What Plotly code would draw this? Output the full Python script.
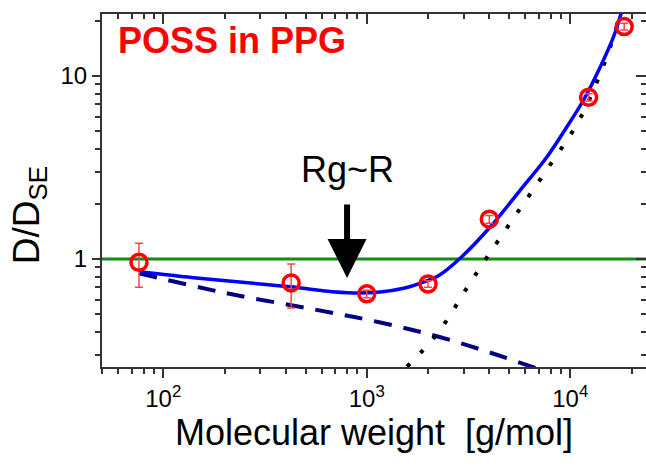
import math
import plotly.graph_objects as go

# ---- data ----
mw = [76, 425, 1000, 2000, 4000, 12300, 18400]
ratio = [0.96, 0.74, 0.645, 0.73, 1.65, 7.65, 18.6]
ratio_err = [0.26, 0.20, 0.03, 0.03, 0.08, 0.35, 0.8]

fit_mw = [76, 150, 300, 425, 600, 860, 1165, 1517, 2000, 2250, 2850, 4050,
          5680, 7690, 9630, 11620, 14030, 16320, 17740, 18400]
fit_val = [0.852, 0.785, 0.73, 0.705, 0.672, 0.652, 0.66, 0.692, 0.765, 0.81,
           1.0, 1.5, 2.38, 3.62, 5.28, 7.39, 11.2, 16.4, 21.8, 24.5]

low_mw = [76, 205, 548, 1165, 2570, 7000]
low_val = [0.835, 0.65, 0.531, 0.45, 0.361, 0.25]

high_mw = [1576, 2228, 3289, 4920, 7395, 11070, 14480, 16640, 18000]
high_val = [0.258, 0.393, 0.768, 1.50, 2.90, 5.75, 11.24, 17.46, 23.5]

x_lim = [50, 23550]
y_lim = [0.257, 21.8]
ref_val = [1, 1]

x_major = [100, 1000, 10000]
x_major_text = ["10<sup>2</sup>", "10<sup>3</sup>", "10<sup>4</sup>"]
x_minor = [m * 10 ** e for e in range(1, 5) for m in range(2, 10)]
y_major = [1, 10]
y_major_text = ["1", "10"]
y_minor = [m * 10 ** e for e in range(-1, 2) for m in range(2, 10)]

arrow_mw = 800
arrow_tip = 0.787

FONT = "Arial, Liberation Sans, sans-serif"
AX = "#333333"

fig = go.Figure()

fig.add_trace(go.Scatter(x=x_lim, y=ref_val, mode="lines",
                         line=dict(color="#138a13", width=3), hoverinfo="skip"))
fig.add_trace(go.Scatter(x=low_mw, y=low_val, mode="lines",
                         line=dict(color="#000080", width=4, dash="18px,12px", shape="spline"),
                         hoverinfo="skip"))
fig.add_trace(go.Scatter(x=high_mw, y=high_val, mode="lines",
                         line=dict(color="black", width=4, dash="4px,15px", shape="spline"),
                         hoverinfo="skip"))
fig.add_trace(go.Scatter(x=fit_mw, y=fit_val, mode="lines",
                         line=dict(color="#0000ff", width=3.5, shape="spline", smoothing=1.0),
                         hoverinfo="skip"))
fig.add_trace(go.Scatter(x=mw, y=ratio, mode="markers",
                         marker=dict(symbol="circle-open", size=16, color="#ff0000",
                                     line=dict(width=3.5, color="#ff0000")),
                         error_y=dict(type="data", array=ratio_err, visible=True,
                                      color="#ff4444", thickness=1.5, width=4)))
# helper traces so the mirrored (top / right) axes get drawn
fig.add_trace(go.Scatter(x=[], y=[], xaxis="x2", yaxis="y", showlegend=False))
fig.add_trace(go.Scatter(x=[], y=[], xaxis="x", yaxis="y2", showlegend=False))

xr = [math.log10(x_lim[0]), math.log10(x_lim[1])]
yr = [math.log10(y_lim[0]), math.log10(y_lim[1])]

fig.update_layout(
    width=646, height=466,
    margin=dict(l=102, r=0, t=14, b=99),
    paper_bgcolor="white", plot_bgcolor="white",
    showlegend=False,
    font=dict(family=FONT, color="black"),
    xaxis=dict(type="log", range=xr, showgrid=False, zeroline=False,
               showline=True, linecolor=AX, linewidth=2,
               tickmode="array", tickvals=x_major, ticktext=x_major_text,
               ticks="outside", ticklen=9, tickwidth=1.5, tickcolor=AX,
               tickfont=dict(size=24, family=FONT),
               minor=dict(tickmode="array", tickvals=x_minor, ticks="outside",
                          ticklen=5, tickwidth=1.5, tickcolor=AX),
               title=dict(text="Molecular weight&nbsp; [g/mol]",
                          font=dict(size=36, family=FONT), standoff=8)),
    yaxis=dict(type="log", range=yr, showgrid=False, zeroline=False,
               showline=True, linecolor=AX, linewidth=2,
               tickmode="array", tickvals=y_major, ticktext=y_major_text,
               ticks="outside", ticklen=8, tickwidth=1.5, tickcolor=AX,
               tickfont=dict(size=24, family=FONT),
               minor=dict(tickmode="array", tickvals=y_minor, ticks="outside",
                          ticklen=5, tickwidth=1.5, tickcolor=AX)),
    xaxis2=dict(type="log", range=xr, overlaying="x", side="top", anchor="y",
                showgrid=False, zeroline=False, showline=True, linecolor=AX, linewidth=2,
                tickmode="array", tickvals=x_major, showticklabels=False,
                ticks="inside", ticklen=10, tickwidth=1.5, tickcolor=AX,
                minor=dict(tickmode="array", tickvals=x_minor, ticks="inside",
                           ticklen=5, tickwidth=1.5, tickcolor=AX)),
    yaxis2=dict(type="log", range=yr, overlaying="y", side="right", anchor="x",
                showgrid=False, zeroline=False, showline=False,
                tickmode="array", tickvals=y_major, showticklabels=False,
                ticks="inside", ticklen=10, tickwidth=1.5, tickcolor=AX,
                minor=dict(tickmode="array", tickvals=y_minor, ticks="inside",
                           ticklen=5, tickwidth=1.5, tickcolor=AX)),
)

# y-axis title placed as a rotated annotation (sits lower than centre in the reference)
fig.add_annotation(x=-0.134, y=0.43, xref="paper", yref="paper",
                   xanchor="center", yanchor="middle", textangle=-90,
                   text="D/D<sub>SE</sub>", showarrow=False,
                   font=dict(size=37, family=FONT, color="black"))

fig.add_annotation(x=math.log10(arrow_mw), y=math.log10(arrow_tip), xref="x", yref="y",
                   ax=0, ay=-75, text="", showarrow=True,
                   arrowhead=2, arrowsize=1.3, arrowwidth=6, arrowcolor="black")
fig.add_annotation(x=math.log10(arrow_mw), y=math.log10(arrow_tip), xref="x", yref="y",
                   text="Rg~R", showarrow=False, yshift=86, yanchor="bottom",
                   font=dict(size=36, family=FONT, color="black"))
fig.add_annotation(x=0.026, y=0.99, xref="paper", yref="paper", xanchor="left", yanchor="top",
                   text="<b>POSS in PPG</b>", showarrow=False,
                   font=dict(size=36, family=FONT, color="#ff0000"))

fig.write_html("out.html")
